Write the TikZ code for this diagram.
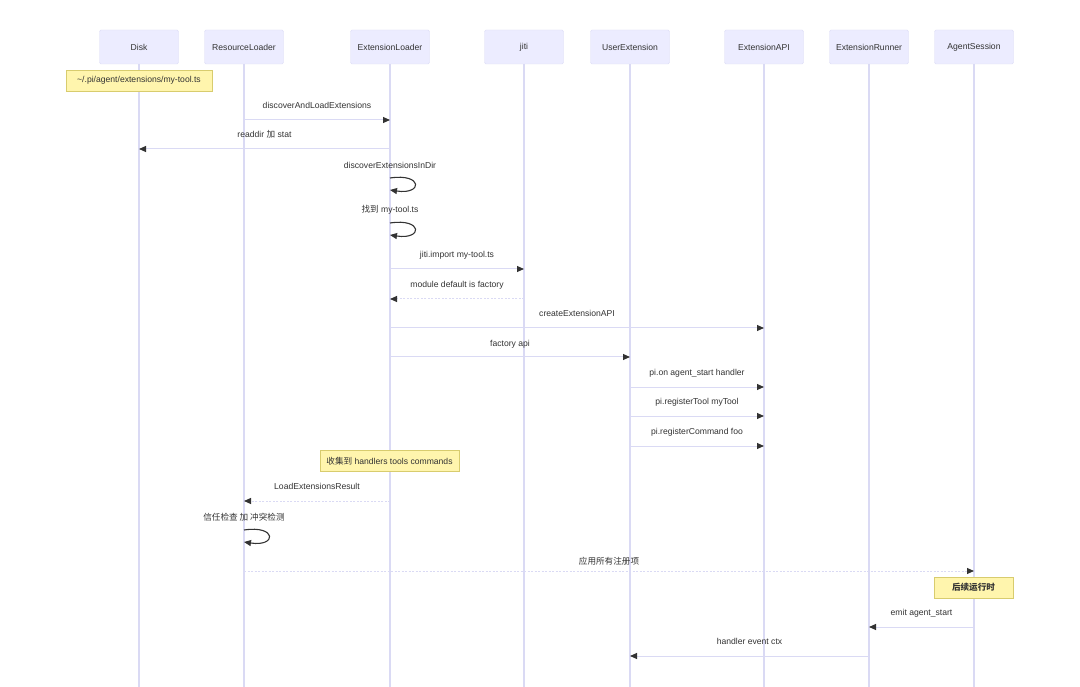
\documentclass[tikz,border=0pt]{standalone}
\usepackage{fontspec}
\setmainfont{Liberation Sans}
\newfontfamily\cjk{Noto Sans CJK SC}
\usetikzlibrary{arrows.meta}
\definecolor{actorfill}{HTML}{ECECFF}
\definecolor{actorline}{HTML}{DEDEF6}
\definecolor{lifeline}{HTML}{DADAF4}
\definecolor{notefill}{HTML}{FFF5AD}
\definecolor{noteline}{HTML}{D8CC6E}
\definecolor{ink}{HTML}{333333}

\begin{document}
\begin{tikzpicture}[x=1pt, y=-1pt, font=\fontsize{8.6}{10}\selectfont, text=ink,
        actor/.style={draw=actorline, fill=actorfill, rounded corners=1.5pt, minimum width=79pt, minimum height=34pt, inner sep=0pt},
        life/.style={draw=lifeline, line width=1.3pt},
        msg/.style={draw=lifeline, line width=1pt, -{Triangle[length=7pt,width=6pt,color=ink]}},
        reply/.style={msg, dash pattern=on 2pt off 1.5pt},
        selfloop/.style={draw=ink, line width=1.1pt, -{Triangle[length=7pt,width=6pt,color=ink]}},
        note/.style={draw=noteline, fill=notefill, minimum height=21pt, inner xsep=6pt},
        lbl/.style={midway, yshift=#1, text height=6.4pt, text depth=1.8pt},
        lbl/.default=14pt]
            \useasboundingbox[fill=white] (0,0) rectangle (1080,687);

            \node[actor] (disk) at (139,47) {Disk};
            \node[actor] (rl) at (244,47) {ResourceLoader};
            \node[actor] (el) at (390,47) {ExtensionLoader};
            \node[actor] (jiti) at (524,47) {jiti};
            \node[actor] (ue) at (630,47) {UserExtension};
            \node[actor] (api) at (764,47) {ExtensionAPI};
            \node[actor] (runner) at (869,47) {ExtensionRunner};
            \node[actor] (session) at (974,47) {AgentSession};

            \foreach \a in {disk,rl,el,jiti,ue,api,runner,session}
                \draw[life] (\a) -- (\a |- 0,687);

            \node[note, minimum width=146pt] (pathnote) at (139,80.5) {\textasciitilde/.pi/agent/extensions/my-tool.ts};

            \draw[msg] (rl |- 0,120) -- node[lbl]{discoverAndLoadExtensions} (el |- 0,120);
            \draw[msg] (el |- 0,149) -- node[lbl]{readdir {\cjk 加} stat} (disk |- 0,149);

            \node (scan) at (el |- 0,165) {discoverExtensionsInDir};
            \draw[selfloop] (el |- 0,178) .. controls +(33,-5) and +(33,5) .. (el |- 0,190);
            \node (found) at (el |- 0,210) {{\cjk 找到} my-tool.ts};
            \draw[selfloop] (el |- 0,223) .. controls +(33,-5) and +(33,5) .. (el |- 0,235);

            \draw[msg] (el |- 0,269) -- node[lbl]{jiti.import my-tool.ts} (jiti |- 0,269);
            \draw[reply] (jiti |- 0,299) -- node[lbl]{module default is factory} (el |- 0,299);
            \draw[msg] (el |- 0,328) -- node[lbl]{createExtensionAPI} (api |- 0,328);
            \draw[msg] (el |- 0,357) -- node[lbl=13pt]{factory api} (ue |- 0,357);
            \draw[msg] (ue |- 0,387) -- node[lbl]{pi.on agent\_start handler} (api |- 0,387);
            \draw[msg] (ue |- 0,416) -- node[lbl]{pi.registerTool myTool} (api |- 0,416);
            \draw[msg] (ue |- 0,446) -- node[lbl]{pi.registerCommand foo} (api |- 0,446);

            \node[note, minimum width=139pt] (collect) at (389.5,461) {{\cjk 收集到} handlers tools commands};

            \draw[reply] (el |- 0,501) -- node[lbl]{LoadExtensionsResult} (rl |- 0,501);
            \node (check) at (rl |- 0,517) {\cjk 信任检查 加 冲突检测};
            \draw[selfloop] (rl |- 0,530) .. controls +(33,-5) and +(33,5) .. (rl |- 0,542);

            \draw[reply] (rl |- 0,571) -- node[lbl=9pt]{\cjk 应用所有注册项} (session |- 0,571);

            \node[note, minimum width=79pt] (later) at (973.5,587.5) {\cjk\bfseries 后续运行时};

            \draw[msg] (session |- 0,627) -- node[lbl]{emit agent\_start} (runner |- 0,627);
            \draw[msg] (runner |- 0,656) -- node[lbl]{handler event ctx} (ue |- 0,656);
        \end{tikzpicture}
\end{document}
